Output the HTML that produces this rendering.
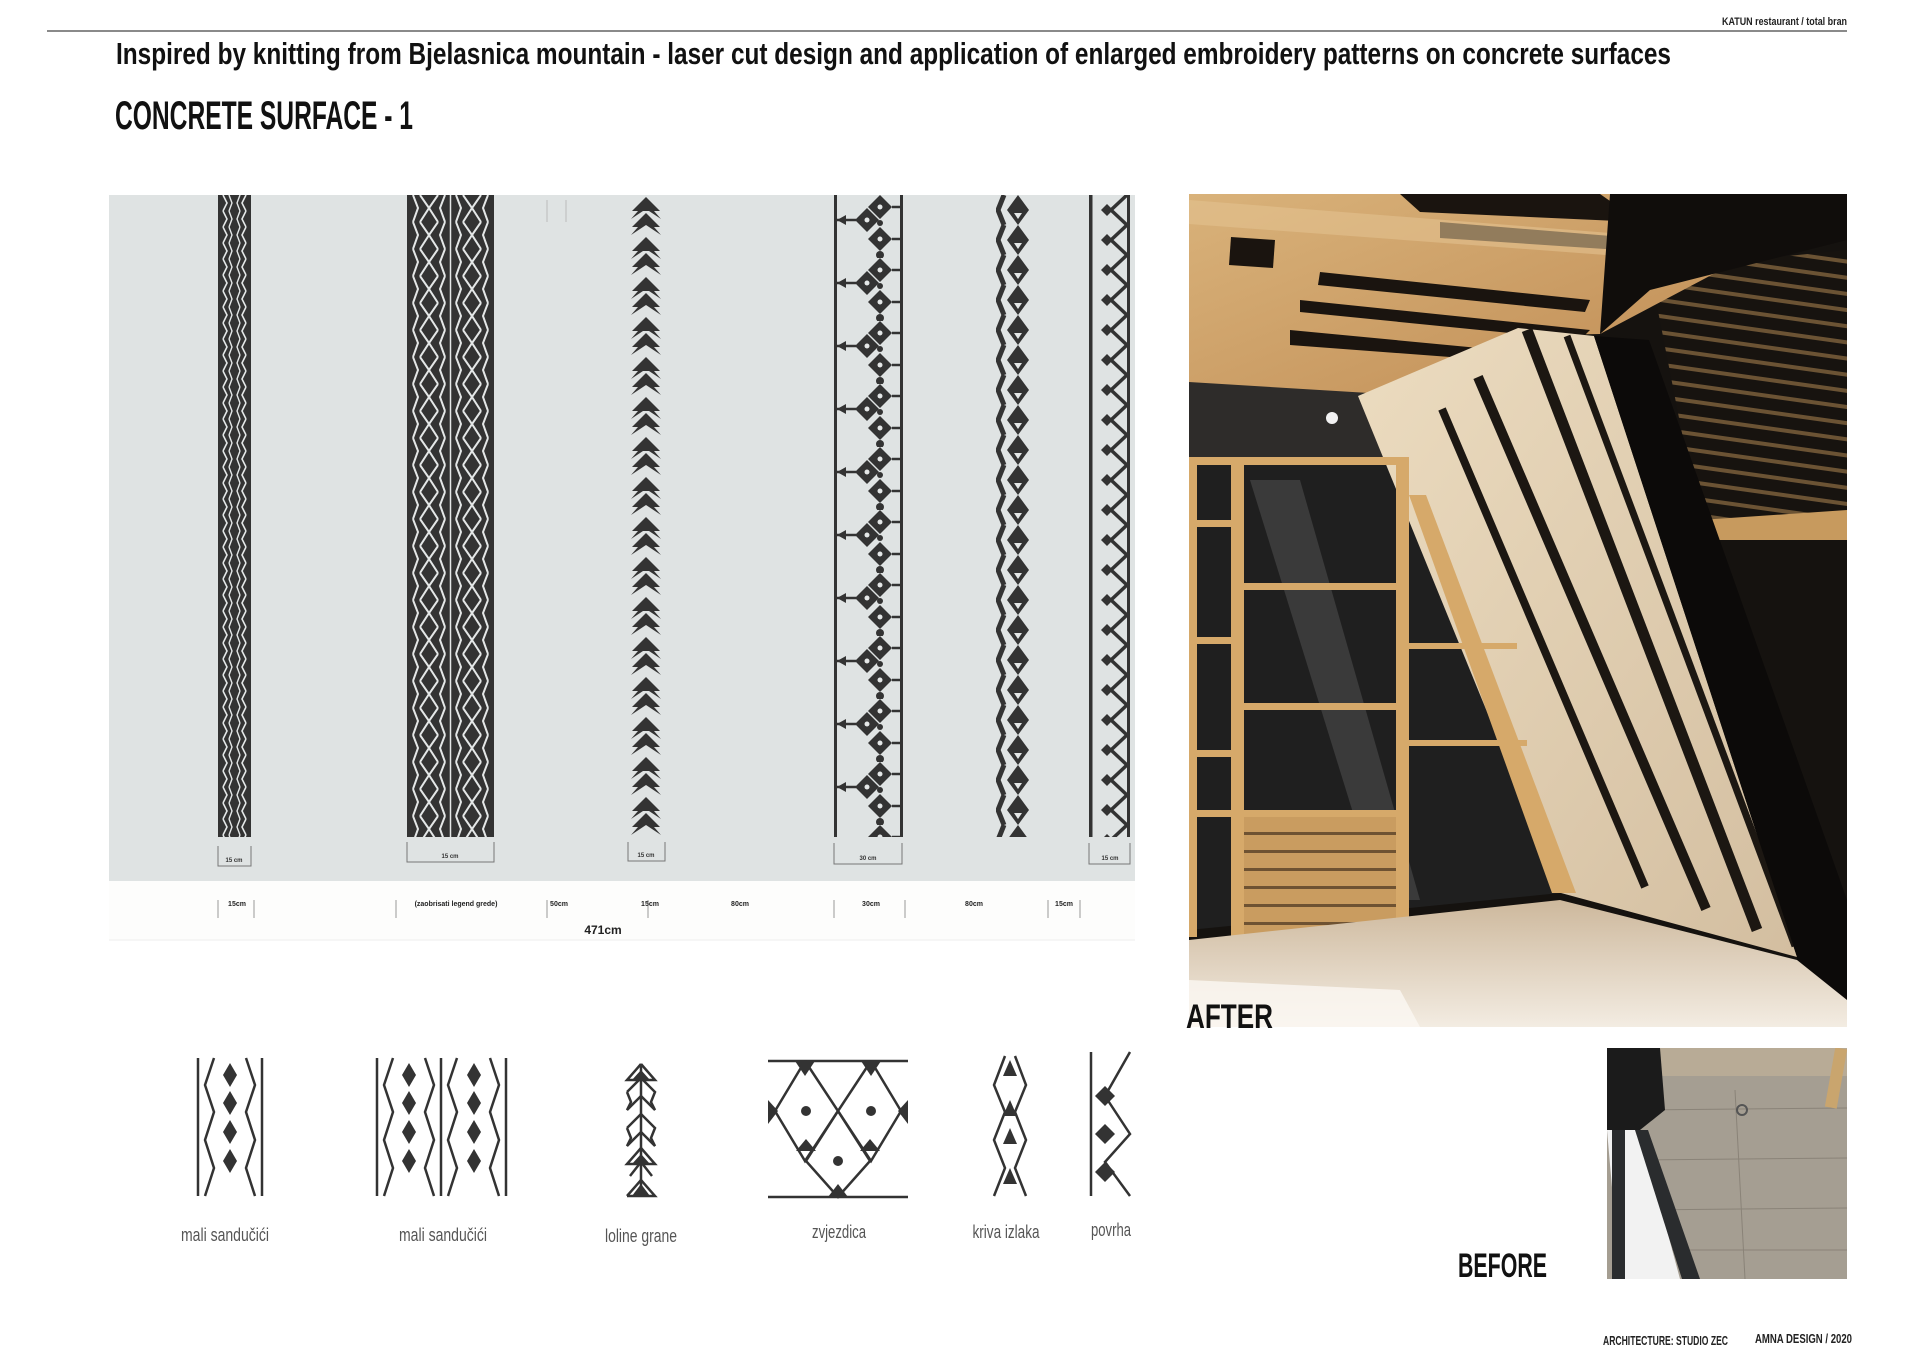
<!DOCTYPE html>
<html><head><meta charset="utf-8"><style>
html,body{margin:0;padding:0;background:#fff;}
svg{display:block}
text{font-family:"Liberation Sans Narrow","Liberation Sans",sans-serif;}
</style></head><body>
<svg width="1920" height="1360" viewBox="0 0 1920 1360" xmlns="http://www.w3.org/2000/svg">
<defs>
 <pattern id="p1" patternUnits="userSpaceOnUse" x="218" y="195" width="33" height="16">
  <rect width="33" height="16" fill="#333"/>
  <polyline points="5,0 9,8 5,16" fill="none" stroke="#e4e7e7" stroke-width="1.6"/>
  <polyline points="28,0 24,8 28,16" fill="none" stroke="#e4e7e7" stroke-width="1.6"/>
  <polyline points="11,0 14,8 11,16" fill="none" stroke="#e4e7e7" stroke-width="1.4"/>
  <polyline points="22,0 19,8 22,16" fill="none" stroke="#e4e7e7" stroke-width="1.4"/>
 </pattern>
 <pattern id="p2" patternUnits="userSpaceOnUse" x="407" y="195" width="87" height="27">
  <rect width="87" height="27" fill="#333"/>
  <g fill="none" stroke="#e4e7e7" stroke-width="2">
   <polyline points="6,0 11,13 6,27"/><polyline points="38,0 33,13 38,27"/>
   <polyline points="13,0 22,13 13,27"/><polyline points="31,0 22,13 31,27"/>
   <polyline points="49,0 54,13 49,27"/><polyline points="81,0 76,13 81,27"/>
   <polyline points="56,0 65,13 56,27"/><polyline points="74,0 65,13 74,27"/>
   <line x1="43.5" y1="0" x2="43.5" y2="27" stroke-width="1.5"/>
  </g>
 </pattern>
 <pattern id="p3" patternUnits="userSpaceOnUse" x="627" y="195" width="38" height="40">
  <g fill="#333">
   <polygon points="19,2 33,16 27,16 34,24 19,14 4,24 11,16 5,16"/>
   <polygon points="19,18 33,32 27,32 34,40 19,30 4,40 11,32 5,32"/>
   <polygon points="19,10 25,16 13,16"/>
  </g>
 </pattern>
 <pattern id="p4" patternUnits="userSpaceOnUse" x="834" y="195" width="69" height="63">
  <rect x="0" y="0" width="3" height="63" fill="#333"/><rect x="66" y="0" width="3" height="63" fill="#333"/>
  <g fill="#333">
   <polygon points="33,13 45,25 33,37 21,25"/>
   <polygon points="46,0 58,12 46,24 34,12"/>
   <polygon points="46,32 58,44 46,56 34,44"/>
   <circle cx="46" cy="60" r="4"/><circle cx="46" cy="28" r="3"/>
   <polygon points="3,25 12,20 12,30"/>
  </g>
  <g fill="#e4e7e7"><circle cx="33" cy="25" r="2.5"/><circle cx="46" cy="12" r="2.5"/><circle cx="46" cy="44" r="2.5"/></g>
  <g stroke="#333" stroke-width="2.5"><line x1="3" y1="25" x2="22" y2="25"/><line x1="58" y1="12" x2="66" y2="12"/><line x1="58" y1="44" x2="66" y2="44"/></g>
 </pattern>
 <pattern id="p5" patternUnits="userSpaceOnUse" x="996" y="195" width="34" height="30">
  <polyline points="8,0 2,15 8,30" fill="none" stroke="#333" stroke-width="5"/>
  <polygon points="22,0 33,15 22,30 11,15" fill="#333"/>
  <polygon points="18,18 26,18 22,24" fill="#e4e7e7"/>
 </pattern>
 <pattern id="p6" patternUnits="userSpaceOnUse" x="1089" y="195" width="41" height="30">
  <rect x="0" y="0" width="3.5" height="30" fill="#333"/>
  <polyline points="38,0 22,15 38,30" fill="none" stroke="#333" stroke-width="3.5"/>
  <rect x="38" y="0" width="3" height="30" fill="#333"/>
  <polygon points="12,15 18,9 24,15 18,21" fill="#333"/>
 </pattern>
 <pattern id="slat" patternUnits="userSpaceOnUse" width="40" height="16" patternTransform="rotate(8)">
  <rect width="40" height="16" fill="#17130f"/><rect y="0" width="40" height="4" fill="#6b5334"/>
 </pattern>
 <linearGradient id="floor" x1="0" y1="0" x2="0" y2="1"><stop offset="0" stop-color="#cdb89c"/><stop offset="1" stop-color="#f3ece2"/></linearGradient>
 <linearGradient id="conc" x1="0" y1="0" x2="1" y2="1"><stop offset="0" stop-color="#ecdcc0"/><stop offset="1" stop-color="#d3bea0"/></linearGradient>
 <linearGradient id="wood" x1="0" y1="0" x2="1" y2="1"><stop offset="0" stop-color="#d9b27a"/><stop offset="1" stop-color="#c08d55"/></linearGradient>
</defs>

<!-- header -->
<line x1="47" y1="31" x2="1847" y2="31" stroke="#8a8a8a" stroke-width="2"/>
<text x="1722" y="25" font-size="11" font-weight="bold" textLength="125" lengthAdjust="spacingAndGlyphs" fill="#222">KATUN restaurant / total bran</text>
<text x="116" y="64" font-size="31" font-weight="bold" textLength="1555" lengthAdjust="spacingAndGlyphs" fill="#111">Inspired by knitting from Bjelasnica mountain - laser cut design and application of enlarged embroidery patterns on concrete surfaces</text>
<text x="115" y="129" font-size="40" font-weight="bold" textLength="298" lengthAdjust="spacingAndGlyphs" fill="#111">CONCRETE SURFACE - 1</text>

<!-- pattern panel -->
<rect x="109" y="195" width="1026" height="686" fill="#dfe3e3"/>
<rect x="109" y="881" width="1026" height="59" fill="#fdfdfc"/>
<line x1="109" y1="940" x2="1135" y2="940" stroke="#eee" stroke-width="1"/>
<rect x="218" y="195" width="33" height="642" fill="url(#p1)"/>
<rect x="218" y="195" width="3" height="642" fill="#333"/><rect x="248" y="195" width="3" height="642" fill="#333"/>
<rect x="407" y="195" width="87" height="642" fill="url(#p2)"/>
<rect x="407" y="195" width="4" height="642" fill="#333"/><rect x="490" y="195" width="4" height="642" fill="#333"/>
<rect x="627" y="195" width="38" height="642" fill="url(#p3)"/>
<rect x="834" y="195" width="69" height="642" fill="url(#p4)"/>
<rect x="996" y="195" width="34" height="642" fill="url(#p5)"/>
<rect x="1089" y="195" width="41" height="642" fill="url(#p6)"/>
<line x1="547" y1="200" x2="547" y2="222" stroke="#bbb"/><line x1="566" y1="200" x2="566" y2="222" stroke="#bbb"/>
<g fill="none" stroke="#777" stroke-width="1">
 <path d="M218 846 V866 H251 V846"/><path d="M407 842 V862 H494 V842"/><path d="M628 842 V861 H665 V842"/>
 <path d="M834 843 V864 H902 V843"/><path d="M1089 843 V864 H1130 V843"/>
</g>
<g font-size="6" font-weight="bold" fill="#333" text-anchor="middle">
 <text x="234" y="862">15 cm</text><text x="450" y="858">15 cm</text><text x="646" y="857">15 cm</text><text x="868" y="860">30 cm</text><text x="1110" y="860">15 cm</text>
</g>
<g stroke="#999" stroke-width="1">
 <line x1="218" y1="900" x2="218" y2="918"/><line x1="254" y1="900" x2="254" y2="918"/><line x1="396" y1="900" x2="396" y2="918"/>
 <line x1="547" y1="900" x2="547" y2="918"/><line x1="648" y1="900" x2="648" y2="918"/><line x1="834" y1="900" x2="834" y2="918"/>
 <line x1="905" y1="900" x2="905" y2="918"/><line x1="1048" y1="900" x2="1048" y2="918"/><line x1="1080" y1="900" x2="1080" y2="918"/>
</g>
<g font-size="7" font-weight="bold" fill="#222" text-anchor="middle">
 <text x="237" y="906">15cm</text><text x="456" y="906">(zaobrisati legend grede)</text><text x="559" y="906">50cm</text><text x="650" y="906">15cm</text>
 <text x="740" y="906">80cm</text><text x="871" y="906">30cm</text><text x="974" y="906">80cm</text><text x="1064" y="906">15cm</text>
</g>
<text x="603" y="934" font-size="12" font-weight="bold" text-anchor="middle" fill="#222">471cm</text>

<!-- after photo -->
<svg x="1189" y="194" width="658" height="833" viewBox="1189 194 658 833">
 <rect x="1189" y="194" width="658" height="833" fill="#15120f"/>
 <!-- right slatted ceiling -->
 <polygon points="1650,270 1847,250 1847,520 1700,525" fill="url(#slat)"/>
 <polygon points="1700,520 1847,510 1847,540 1705,540" fill="#c79a5e"/>
 <!-- dark wall behind shelves -->
 <rect x="1189" y="370" width="260" height="110" fill="#2e2c2a"/>
 <!-- glass interior -->
 <polygon points="1189,460 1420,460 1560,893 1189,930" fill="#1f1f1f"/>
 <polygon points="1250,480 1300,480 1420,900 1380,900" fill="#3a3a3a"/>
 <!-- ceiling wood -->
 <polygon points="1189,194 1721,194 1721,270 1600,334 1500,336 1450,398 1189,382" fill="url(#wood)"/>
 <g fill="#1a140f">
  <polygon points="1231,237 1275,240 1273,268 1229,265"/>
  <polygon points="1320,272 1590,300 1585,312 1318,285"/>
  <polygon points="1300,300 1590,330 1580,340 1300,312"/>
  <polygon points="1290,330 1500,350 1490,360 1290,345"/>
  <polygon points="1400,194 1600,194 1640,222 1420,212"/>
  <polygon points="1440,222 1660,240 1650,252 1440,238"/>
 </g>
 <polygon points="1189,200 1700,240 1700,262 1189,224" fill="#e2c190" opacity="0.6"/>
 <!-- concrete wall -->
 <polygon points="1358,396 1518,328 1594,336 1797,957 1561,893" fill="url(#conc)"/>
 <g stroke="#1c1712" stroke-linecap="butt">
  <line x1="1442" y1="409" x2="1645" y2="887" stroke-width="8"/>
  <line x1="1478" y1="377" x2="1706" y2="909" stroke-width="10"/>
  <line x1="1527" y1="330" x2="1757" y2="930" stroke-width="11"/>
  <line x1="1567" y1="336" x2="1795" y2="946" stroke-width="7"/>
 </g>
 <!-- black beam -->
 <polygon points="1594,336 1649,340 1847,900 1847,1000 1797,990 1797,957" fill="#0c0a09"/>
 <polygon points="1610,194 1847,194 1847,240 1650,290 1600,334" fill="#100d0b"/>
 <!-- shelving -->
 <g fill="#d6a96a">
  <rect x="1189" y="457" width="220" height="8"/>
  <rect x="1189" y="457" width="8" height="480"/><rect x="1231" y="457" width="13" height="480"/><rect x="1396" y="462" width="13" height="475"/>
  <rect x="1189" y="520" width="55" height="7"/><rect x="1244" y="583" width="152" height="7"/><rect x="1189" y="637" width="55" height="7"/>
  <rect x="1244" y="703" width="152" height="7"/><rect x="1189" y="750" width="55" height="7"/><rect x="1189" y="810" width="220" height="7"/>
  <rect x="1244" y="817" width="152" height="120" fill="#c99c60"/>
  <rect x="1409" y="643" width="108" height="6"/><rect x="1409" y="740" width="118" height="6"/>
 </g>
 <g fill="#6e5232"><rect x="1244" y="832" width="152" height="3"/><rect x="1244" y="850" width="152" height="3"/><rect x="1244" y="868" width="152" height="3"/><rect x="1244" y="886" width="152" height="3"/><rect x="1244" y="904" width="152" height="3"/><rect x="1244" y="922" width="152" height="3"/></g>
 <polygon points="1409,495 1426,495 1576,893 1552,893" fill="#d6a96a"/>
 <!-- floor -->
 <polygon points="1189,940 1560,900 1797,960 1847,1000 1847,1027 1189,1027" fill="url(#floor)"/>
 <polygon points="1189,980 1400,990 1420,1027 1189,1027" fill="#fbf8f3" opacity="0.8"/>
 <circle cx="1332" cy="418" r="6" fill="#f2f2f2"/>
</svg>
<text x="1186" y="1028" font-size="34" font-weight="bold" textLength="87" lengthAdjust="spacingAndGlyphs" fill="#111">AFTER</text>

<!-- before photo -->
<svg x="1607" y="1048" width="240" height="231" viewBox="1607 1048 240 231">
 <rect x="1607" y="1048" width="240" height="231" fill="#a59e92"/>
 <rect x="1607" y="1048" width="240" height="28" fill="#b8ab96"/>
 <g stroke="#8a8378" stroke-width="1"><line x1="1640" y1="1110" x2="1847" y2="1108"/><line x1="1640" y1="1160" x2="1847" y2="1158"/><line x1="1640" y1="1210" x2="1847" y2="1208"/><line x1="1640" y1="1250" x2="1847" y2="1250"/><line x1="1735" y1="1090" x2="1745" y2="1279"/></g>
 <polygon points="1607,1048 1660,1048 1665,1110 1640,1130 1607,1130" fill="#1b1b1b"/>
 <polygon points="1607,1130 1640,1130 1680,1279 1640,1279 1620,1279" fill="#f2f2f2"/>
 <polygon points="1612,1130 1625,1130 1625,1279 1612,1279" fill="#2a2c2e"/>
 <polygon points="1635,1130 1648,1130 1700,1279 1682,1279" fill="#2a2c2e"/>
 <rect x="1830" y="1048" width="12" height="60" fill="#c9a56e" transform="rotate(10 1836 1078)"/>
 <circle cx="1742" cy="1110" r="5" fill="none" stroke="#555" stroke-width="2"/>
</svg>
<text x="1458" y="1277" font-size="34" font-weight="bold" textLength="89" lengthAdjust="spacingAndGlyphs" fill="#111">BEFORE</text>

<!-- icons -->
<g fill="none" stroke="#333" stroke-width="2.5">
 <line x1="198" y1="1058" x2="198" y2="1196"/><line x1="262" y1="1058" x2="262" y2="1196"/>
 <polyline points="214,1058 205,1085 214,1112 205,1140 214,1168 205,1196"/>
 <polyline points="246,1058 255,1085 246,1112 255,1140 246,1168 255,1196"/>
 <line x1="377" y1="1058" x2="377" y2="1196"/><line x1="441" y1="1058" x2="441" y2="1196"/><line x1="506" y1="1058" x2="506" y2="1196"/>
 <polyline points="393,1058 384,1085 393,1112 384,1140 393,1168 384,1196"/>
 <polyline points="425,1058 434,1085 425,1112 434,1140 425,1168 434,1196"/>
 <polyline points="457,1058 448,1085 457,1112 448,1140 457,1168 448,1196"/>
 <polyline points="490,1058 499,1085 490,1112 499,1140 490,1168 499,1196"/>
 <polyline points="627,1092 641,1078 655,1092 651,1102 655,1110 641,1096 627,1110 631,1102 627,1092"/>
 <polyline points="627,1128 641,1114 655,1128 651,1138 655,1146 641,1132 627,1146 631,1138 627,1128"/>
 <polyline points="641,1064 655,1080 627,1080 641,1064"/><polyline points="641,1148 655,1164 627,1164 641,1148"/>
 <polyline points="630,1176 641,1162 652,1176"/><polyline points="627,1196 641,1180 655,1196 627,1196"/>
 <line x1="641" y1="1064" x2="641" y2="1196"/>
 <line x1="768" y1="1061" x2="908" y2="1061"/><line x1="768" y1="1197" x2="908" y2="1197"/>
 <polyline points="805,1061 775,1111 805,1161 838,1111 805,1061"/>
 <polyline points="871,1061 838,1111 871,1161 901,1111 871,1061"/>
 <polyline points="838,1111 806,1161 838,1197 870,1161 838,1111"/>
 <polyline points="1005,1056 994,1085 1005,1112 994,1140 1005,1168 994,1196"/>
 <polyline points="1015,1056 1026,1085 1015,1112 1026,1140 1015,1168 1026,1196"/>
 <line x1="1091" y1="1052" x2="1091" y2="1196"/>
 <polyline points="1130,1052 1105,1096 1130,1134 1105,1162 1130,1196"/>
</g>
<g fill="#333">
 <polygon points="230,1063 237,1075 230,1087 223,1075"/><polygon points="230,1091 237,1103 230,1115 223,1103"/><polygon points="230,1120 237,1132 230,1144 223,1132"/><polygon points="230,1149 237,1161 230,1173 223,1161"/>
 <polygon points="409,1063 416,1075 409,1087 402,1075"/><polygon points="409,1091 416,1103 409,1115 402,1103"/><polygon points="409,1120 416,1132 409,1144 402,1132"/><polygon points="409,1149 416,1161 409,1173 402,1161"/>
 <polygon points="474,1063 481,1075 474,1087 467,1075"/><polygon points="474,1091 481,1103 474,1115 467,1103"/><polygon points="474,1120 481,1132 474,1144 467,1132"/><polygon points="474,1149 481,1161 474,1173 467,1161"/>
 <polygon points="641,1070 650,1080 632,1080"/><polygon points="641,1154 650,1164 632,1164"/><polygon points="641,1184 650,1196 632,1196"/>
 <polygon points="795,1061 815,1061 805,1076"/><polygon points="861,1061 881,1061 871,1076"/>
 <polygon points="768,1100 778,1111 768,1124"/><polygon points="908,1100 898,1111 908,1124"/>
 <polygon points="796,1151 816,1151 806,1139"/><polygon points="860,1151 880,1151 870,1139"/>
 <polygon points="828,1197 848,1197 838,1184"/>
 <circle cx="806" cy="1111" r="5"/><circle cx="871" cy="1111" r="5"/><circle cx="838" cy="1161" r="5"/>
 <polygon points="1010,1060 1017,1076 1003,1076"/><polygon points="1010,1100 1017,1116 1003,1116"/><polygon points="1010,1128 1017,1144 1003,1144"/><polygon points="1010,1168 1017,1184 1003,1184"/>
 <polygon points="1095,1096 1105,1086 1115,1096 1105,1106"/><polygon points="1095,1134 1105,1124 1115,1134 1105,1144"/><polygon points="1095,1172 1105,1162 1115,1172 1105,1182"/>
</g>
<g font-size="18" fill="#555" text-anchor="middle">
 <text x="225" y="1241" textLength="88" lengthAdjust="spacingAndGlyphs">mali sandučići</text>
 <text x="443" y="1241" textLength="88" lengthAdjust="spacingAndGlyphs">mali sandučići</text>
 <text x="641" y="1242" textLength="72" lengthAdjust="spacingAndGlyphs">loline grane</text>
 <text x="839" y="1238" textLength="54" lengthAdjust="spacingAndGlyphs">zvjezdica</text>
 <text x="1006" y="1238" textLength="67" lengthAdjust="spacingAndGlyphs">kriva izlaka</text>
 <text x="1111" y="1236" textLength="40" lengthAdjust="spacingAndGlyphs">povrha</text>
</g>

<!-- footer -->
<text x="1603" y="1345" font-size="13" font-weight="bold" textLength="125" lengthAdjust="spacingAndGlyphs" fill="#222">ARCHITECTURE: STUDIO ZEC</text>
<text x="1755" y="1343" font-size="13" font-weight="bold" textLength="97" lengthAdjust="spacingAndGlyphs" fill="#222">AMNA DESIGN / 2020</text>
</svg>
</body></html>
